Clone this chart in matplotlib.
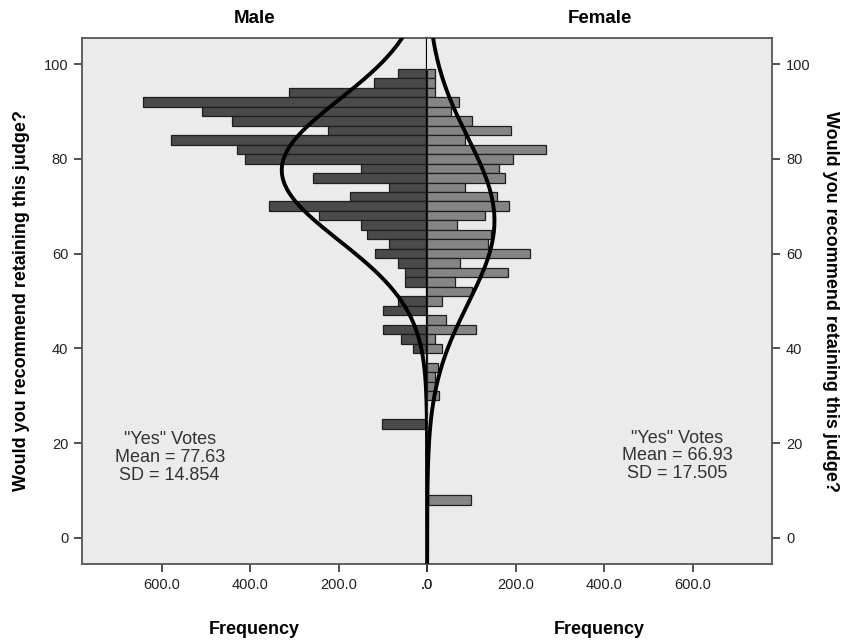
import numpy as np
import matplotlib
matplotlib.use("Agg")
import matplotlib.pyplot as plt

plt.rcParams['font.family'] = ['Liberation Sans', 'DejaVu Sans']

# bin centres of the "Yes" vote percentage, 2 wide, top to bottom
bins = [98, 96, 94, 92, 90, 88, 86, 84, 82, 80, 78, 76, 74, 72, 70, 68,
        66, 64, 62, 60, 58, 56, 54, 52, 50, 48, 46, 44, 42, 40, 38, 36,
        34, 32, 30, 28, 26, 24, 22, 20, 18, 16, 14, 12, 10, 8]

male_counts = [67, 120, 312, 642, 510, 442, 224, 578, 429, 411, 149, 258, 86, 175, 358, 245,
               150, 135, 86, 117, 66, 49, 51, 0, 66, 100, 0, 100, 58, 33, 0, 0,
               0, 0, 0, 0, 0, 101, 0, 0, 0, 0, 0, 0, 0, 0]

female_counts = [17, 17, 17, 71, 53, 101, 190, 85, 269, 195, 162, 177, 85, 159, 186, 130,
                 68, 145, 137, 233, 75, 183, 62, 101, 33, 0, 43, 110, 17, 33, 0, 24,
                 17, 17, 26, 0, 0, 0, 0, 0, 0, 0, 0, 0, 0, 100]

male_mean, male_sd = 77.63, 14.854
female_mean, female_sd = 66.93, 17.505
bin_width = 2

x_ticks = [0, 200, 400, 600]
x_ticklabels = ['.0', '200.0', '400.0', '600.0']
y_ticks = [0, 20, 40, 60, 80, 100]

bg = '#ebebeb'
edge = '#1e1e1e'


def normal_curve(y, mean, sd, n):
    return n * bin_width * np.exp(-0.5 * ((y - mean) / sd) ** 2) / (sd * np.sqrt(2 * np.pi))


fig = plt.figure(figsize=(8.46, 6.4), dpi=100)
ax_m = fig.add_axes([0.097, 0.1188, 0.4079, 0.8218])
ax_f = fig.add_axes([0.5049, 0.1188, 0.4079, 0.8218], sharey=ax_m)

yy = np.linspace(-6, 106, 400)

for ax, counts, mean, sd, col in [(ax_m, male_counts, male_mean, male_sd, '#4a4a4a'),
                                  (ax_f, female_counts, female_mean, female_sd, '#858585')]:
    ax.set_facecolor(bg)
    ax.barh(bins, counts, height=bin_width, color=col, edgecolor=edge, linewidth=0.9, zorder=2)
    ax.plot(normal_curve(yy, mean, sd, sum(counts)), yy, color='black', lw=2.8, zorder=3,
            solid_capstyle='butt')
    ax.set_xlim(0, 780)
    ax.set_xticks(x_ticks)
    ax.set_xticklabels(x_ticklabels)
    ax.set_xlabel('Frequency', fontsize=13, fontweight='bold', labelpad=21)
    ax.tick_params(axis='both', direction='out', length=6, width=1.2, colors='#333333',
                   labelsize=10.5, labelcolor='#222222', pad=4)
    for s in ax.spines.values():
        s.set_color('#555555')
        s.set_linewidth(1.3)

ax_m.invert_xaxis()
ax_m.set_ylim(-5.5, 105.5)
ax_m.set_yticks(y_ticks)
ax_m.spines['right'].set_color('black')
ax_m.spines['right'].set_linewidth(1.6)
ax_m.spines['right'].set_zorder(4)
ax_f.spines['left'].set_visible(False)
ax_f.tick_params(axis='y', left=False, labelleft=False, right=True, labelright=True)

ylab = 'Would you recommend retaining this judge?'
ax_m.set_ylabel(ylab, fontsize=13, fontweight='bold', labelpad=10)
ax_f.yaxis.set_label_position('right')
ax_f.set_ylabel(ylab, fontsize=13, fontweight='bold', rotation=270, labelpad=20)

ax_m.set_title('Male', fontsize=13.5, fontweight='bold', pad=11)
ax_f.set_title('Female', fontsize=13.5, fontweight='bold', pad=11)

ax_m.text(582, 17, '"Yes" Votes\nMean = %.2f\nSD = %.3f' % (male_mean, male_sd),
          ha='center', va='center', fontsize=13, color='#333333', linespacing=1.05, zorder=5)
ax_f.text(566, 17.3, '"Yes" Votes\nMean = %.2f\nSD = %.3f' % (female_mean, female_sd),
          ha='center', va='center', fontsize=13, color='#333333', linespacing=1.05, zorder=5)

fig.savefig('out.png', dpi=100)
